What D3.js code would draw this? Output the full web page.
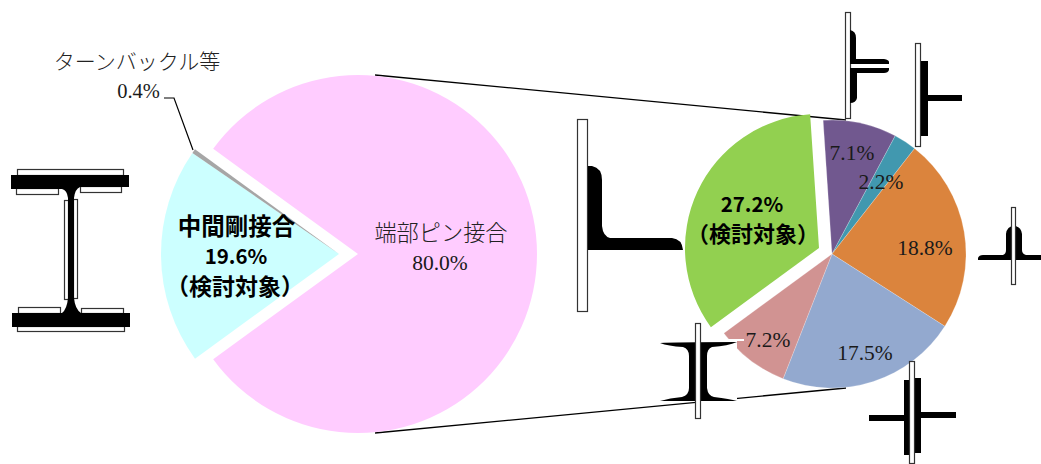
<!DOCTYPE html>
<html lang="ja">
<head>
<meta charset="utf-8">
<title>接合部形式の内訳</title>
<script src="https://cdn.jsdelivr.net/npm/d3@7"></script>
<style>
  html, body { margin: 0; padding: 0; background: #fff; }
  svg { display: block; }
  .serif { font-family: "Liberation Serif", "DejaVu Serif", serif; fill: #1a1a1a; }
  .ja { font-family: "Noto Sans CJK JP", sans-serif; font-weight: 300; fill: #222; }
  .strong { font-family: "Noto Sans CJK JP", sans-serif; font-weight: 700; fill: #000; }
</style>
</head>
<body>
<svg id="chart" width="1041" height="464"></svg>
<script>
// Joint types across all members (percent of the total)
const mainCategories = ["端部ピン接合", "中間剛接合", "ターンバックル等"];
const mainValues = [80.0, 19.6, 0.4];
const mainColors = ["#FFCCFF", "#CCFFFF", "#A6A6A6"];

// Breakdown of the pin joints, in the same percent units (sums to 80)
const detailCategories = ["形式A", "形式B", "形式C", "形式D", "形式E", "形式F"];
const detailValues = [7.1, 2.2, 18.8, 17.5, 7.2, 27.2];
const detailColors = ["#71588F", "#4198AF", "#DB843D", "#93A9CF", "#D19392", "#92D050"];

const deg = Math.PI / 180;
const svg = d3.select("#chart");

// Lines tying the main pie to the detail pie
const connectors = svg.append("g").attr("stroke", "#000").attr("stroke-width", 1.3);
[[375, 75, 846, 120], [375, 433, 846, 388]].forEach(([x1, y1, x2, y2]) =>
  connectors.append("line").attr("x1", x1).attr("y1", y1).attr("x2", x2).attr("y2", y2));

// Main pie: the pin slice stays put, the other two are pulled out to the left
const mainPie = d3.pie().sort(null).value(d => d)
  .startAngle(-54 * deg).endAngle(306 * deg)(mainValues);
const mainOffsets = [[358, 254], [339, 254], [339, 254]];
const mainRadii = [179, 178, 178];
svg.append("g").selectAll("path").data(mainPie).join("path")
  .attr("transform", (d, i) => `translate(${mainOffsets[i]})`)
  .attr("d", (d, i) => d3.arc().innerRadius(0).outerRadius(mainRadii[i])(d))
  .attr("fill", (d, i) => mainColors[i]);

// Detail pie: the checked slice is pulled out along its bisector
const detailPie = d3.pie().sort(null).value(d => d)
  .startAngle(-3.8 * deg).endAngle(356.2 * deg)(detailValues);
const detailArc = d3.arc().innerRadius(0).outerRadius(134);
svg.append("g").selectAll("path").data(detailPie).join("path")
  .attr("transform", (d, i) => i === 5 ? "translate(819,248)" : "translate(832,254)")
  .attr("d", detailArc)
  .attr("fill", (d, i) => detailColors[i])
  .attr("stroke", "#fff").attr("stroke-opacity", (d, i) => i === 5 ? 0 : 0.35).attr("stroke-width", 0.6);

// Leader for the smallest slice
svg.append("path").attr("d", "M164,98H174L193,150")
  .attr("fill", "none").attr("stroke", "#000").attr("stroke-width", 1.2);

// Section sketches: black steel, white plates
const icons = svg.append("g");
const solid = d => icons.append("path").attr("d", d).attr("fill", "#000");
const plate = (x, y, w, h) => icons.append("rect")
  .attr("x", x + 0.5).attr("y", y + 0.5).attr("width", w - 1).attr("height", h - 1)
  .attr("fill", "#fff").attr("stroke", "#333").attr("stroke-width", 1.2);
const blank = (x, y, w, h) => icons.append("rect")
  .attr("x", x).attr("y", y).attr("width", w).attr("height", h).attr("fill", "#fff");

// H section with splice plates
plate(17, 169, 107, 7); plate(16, 188, 43, 7); plate(80, 186, 42, 7);
plate(18, 307, 43, 7); plate(81, 308, 43, 6); plate(17, 326, 108, 6);
plate(64, 200, 5, 100); plate(73, 199, 5, 100);
solid("M11,175H129V187H80Q75,189 74,198V298Q75,309 81,313H130V327H12V313H62Q67,309 68,298V198Q67,190 62,189H11Z");

// Angle on a gusset
plate(577, 119, 11, 193);
solid("M588,166H592Q602,168 602,180V226Q603,236 610,238H672Q682,239 683,250H588Z");

// Double angle, back to back with a gap
plate(845, 12, 6, 107);
solid("M850,30Q856,31 856,38V59H884Q889,60 889,62V64H850Z");
solid("M850,68H889V70Q888,73 884,73H857V98Q856,103 850,103Z");

// Tee with narrow flange
plate(915, 43, 6, 104);
solid("M921,61H928V95H962V101H928V136H921Z");

// Tee on the right of the pie
solid("M978,260V258Q979,255 983,255H1003Q1006,254 1006,250V234Q1007,226 1014,226Q1021,226 1022,234V250Q1022,254 1026,255H1041V260Z");
plate(1011, 207, 5, 78);

// Rolled I section, its backing sheet clips the rose slice
blank(700, 340, 37, 63);
blank(725, 339, 19, 2);
solid("M660,343Q675,342 737,342Q728,346 712,347Q707,349 707,356V388Q708,396 714,397Q730,399 737,401H660Q670,398 682,397Q689,395 689,388V356Q689,349 683,347Q668,346 660,343Z");
plate(695, 323, 6, 96);

// Cross of two tees
solid("M904,380H909V455H904V421H869V415H904Z");
solid("M915,378H921V412H956V418H921V453H915Z");
plate(909, 361, 6, 103);

// Labels
const text = (cls, x, y, size, str) => svg.append("text")
  .attr("class", cls).attr("x", x).attr("y", y).attr("font-size", size)
  .attr("text-anchor", "middle").attr("dominant-baseline", "central").text(str);

text("ja", 137, 60, 21, mainCategories[2]);
text("serif", 138.5, 91, 20.5, mainValues[2].toFixed(1) + "%");
text("ja", 441, 231, 22.2, mainCategories[0]);
text("serif", 440, 263, 21.5, mainValues[0].toFixed(1) + "%");
text("strong", 236.5, 225, 23.5, mainCategories[1]);
text("strong", 236, 255, 20.5, mainValues[1].toFixed(1) + "%");
text("strong", 235, 285, 23, "（検討対象）");

const detailLabelPos = [[852, 153], [881, 182], [925, 248], [865, 353], [768, 340]];
detailLabelPos.forEach(([x, y], i) =>
  text("serif", x, y, 21.5, detailValues[i].toFixed(1) + "%"));
text("strong", 752, 203, 20.5, detailValues[5].toFixed(1) + "%");
text("strong", 753, 232, 22, "（検討対象）");
</script>
</body>
</html>
